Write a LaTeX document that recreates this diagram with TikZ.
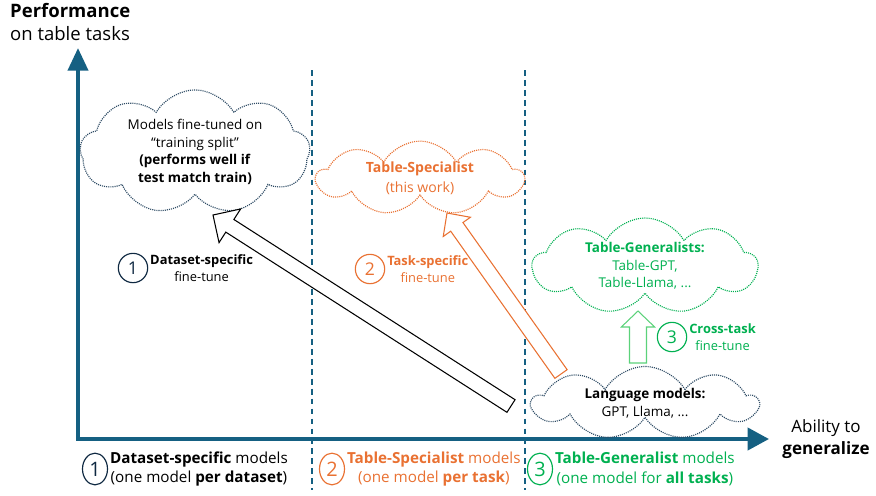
\documentclass[tikz,border=0pt]{standalone}
\usepackage{fontspec}
\setmainfont{Open Sans}
\usetikzlibrary{positioning,calc,arrows.meta,shapes.symbols,shapes.geometric}
\definecolor{axisblue}{HTML}{156082}
\definecolor{navy}{HTML}{0E2841}
\definecolor{slate}{HTML}{2D4B64}
\definecolor{orng}{HTML}{E97132}
\definecolor{grn}{HTML}{00B050}
\definecolor{lightgrn}{HTML}{5BD27A}

\begin{document}
\begin{tikzpicture}
[x=0.03cm,y=-0.03cm,
 axis/.style={axisblue,line width=3.4pt,{Triangle[length=0.68cm,width=0.6cm]}-{Triangle[length=0.64cm,width=0.66cm]}},
 sep/.style={axisblue,line width=1pt,dash pattern=on 5pt off 3.5pt},
 puff/.style={draw,cloud,cloud puffs=9,cloud puff arc=120,cloud ignores aspect,line width=1pt,dash pattern=on 0.9pt off 0.9pt,align=center,inner sep=0pt,font=\fontsize{11.5}{15}\selectfont},
 num/.style={draw,circle,line width=1pt,minimum size=0.88cm,inner sep=0pt,font=\fontsize{15}{15}\selectfont},
 bignum/.style={draw,ellipse,line width=1pt,minimum width=0.75cm,minimum height=0.95cm,inner sep=0pt,font=\fontsize{17}{17}\selectfont},
 how/.style={align=center,inner sep=1.5pt,font=\fontsize{11}{14.5}\selectfont},
 kind/.style={align=center,inner sep=1.5pt,font=\fontsize{13}{17}\selectfont},
 block/.style={draw=#1,fill=white,line width=0.9pt,line join=miter}]
\useasboundingbox (0,0) rectangle (876,495);

% regions
\draw[sep] (312,70) -- (312,490);
\draw[sep] (525,70) -- (525,490);

% axes
\coordinate (ytop) at (78,48);
\coordinate (xend) at (769,439);
\draw[axis] (ytop) |- (xend);
\node[anchor=north west,align=left,inner sep=0pt,font=\fontsize{15.8}{19.5}\selectfont] (ylab) at (10,3) {\textbf{Performance}\\on table tasks};
\node[align=center,inner sep=0pt,font=\fontsize{14.5}{19.5}\selectfont] (xlab) at (826,439) {Ability to\\\textbf{generalize}};

% clouds
\node[puff,slate,text=black,minimum width=6.9cm,minimum height=3.55cm] (fit) at (195,152) {Models fine-tuned on\\“training split”\\\textbf{(performs well if}\\\textbf{test match train)}};
\node[puff,orng,minimum width=6.2cm,minimum height=2.15cm,font=\fontsize{12}{17}\selectfont] (spec) at (420,178) {\textbf{Table-Specialist}\\(this work)};
\node[puff,grn,minimum width=6.75cm,minimum height=2.35cm] (gen) at (645,266) {\textbf{Table-Generalists:}\\Table-GPT,\\Table-Llama, ...};
\node[puff,slate,text=black,minimum width=6.75cm,minimum height=1.9cm] (lm) at (645,403) {\textbf{Language models:}\\GPT, Llama, ...};

% block arrows
\coordinate (t1) at (511,406);
\coordinate (h1) at (213,215);
\coordinate (b1) at ($(h1)!0.6cm!(t1)$);
\draw[block=black] ($(t1)!0.225cm!90:(h1)$) -- ($(b1)!0.225cm!90:(h1)$) -- ($(b1)!0.6cm!90:(h1)$) -- (h1) -- ($(b1)!0.6cm!-90:(h1)$) -- ($(b1)!0.225cm!-90:(h1)$) -- ($(t1)!0.225cm!-90:(h1)$) -- cycle;
\coordinate (t2) at (561,374);
\coordinate (h2) at (447,213);
\coordinate (b2) at ($(h2)!0.51cm!(t2)$);
\draw[block=orng] ($(t2)!0.225cm!90:(h2)$) -- ($(b2)!0.225cm!90:(h2)$) -- ($(b2)!0.5cm!90:(h2)$) -- (h2) -- ($(b2)!0.5cm!-90:(h2)$) -- ($(b2)!0.225cm!-90:(h2)$) -- ($(t2)!0.225cm!-90:(h2)$) -- cycle;
\coordinate (t3) at (638,363);
\coordinate (h3) at (638,311);
\coordinate (b3) at ($(h3)!0.48cm!(t3)$);
\draw[block=lightgrn] ($(t3)!0.255cm!90:(h3)$) -- ($(b3)!0.255cm!90:(h3)$) -- ($(b3)!0.5cm!90:(h3)$) -- (h3) -- ($(b3)!0.5cm!-90:(h3)$) -- ($(b3)!0.255cm!-90:(h3)$) -- ($(t3)!0.255cm!-90:(h3)$) -- cycle;

% fine-tune steps
\node[num,navy] (c1) at (133,268) {1};
\node[how,right=0pt of c1] (l1) {\textbf{Dataset-specific}\\fine-tune};
\node[num,orng] (c2) at (370,269) {2};
\node[how,orng,right=0pt of c2] (l2) {\textbf{Task-specific}\\fine-tune};
\node[num,grn] (c3) at (672,337) {3};
\node[how,grn,right=0pt of c3] (l3) {\textbf{Cross-task}\\fine-tune};

% model kinds
\node[bignum,navy] (k1) at (95,469) {1};
\node[kind,right=0pt of k1] (m1) {\textbf{Dataset-specific} models\\(one model \textbf{per dataset})};
\node[bignum,orng] (k2) at (332,469) {2};
\node[kind,orng,right=0pt of k2] (m2) {\textbf{Table-Specialist} models\\(one model \textbf{per task})};
\node[bignum,grn] (k3) at (540,469) {3};
\node[kind,grn,right=0pt of k3] (m3) {\textbf{Table-Generalist} models\\(one model for \textbf{all tasks})};
\end{tikzpicture}
\end{document}
